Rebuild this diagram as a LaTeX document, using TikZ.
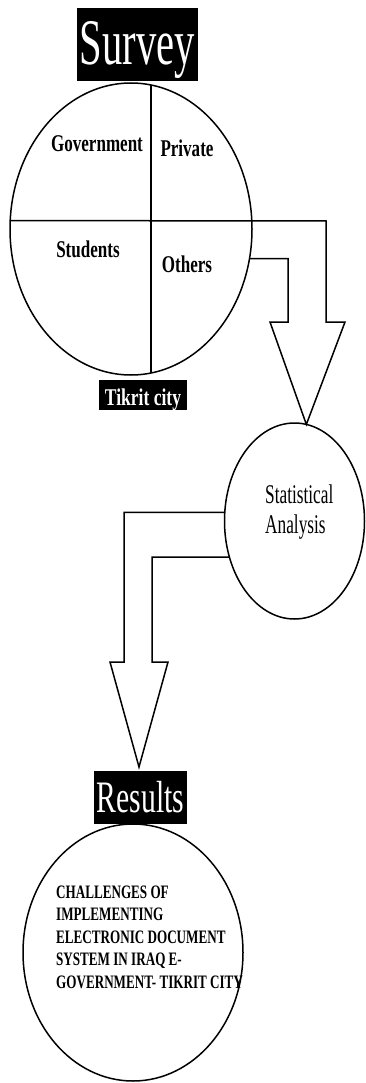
\documentclass[tikz,border=0pt]{standalone}
\usepackage{graphicx}
\usepackage{fontspec}
\setmainfont{Liberation Serif}
\usetikzlibrary{shapes.geometric}
\newcommand{\sqz}[2]{\scalebox{#1}[1]{#2}}
\tikzset{
  ln/.style={line width=1.5pt, line join=miter},
  oval/.style={draw, ellipse, ln, inner sep=0pt, outer sep=0pt},
  blackbox/.style={fill=black, text=white, inner sep=0pt, text depth=0pt},
  lbl/.style={inner sep=0pt, anchor=base, font=\fontsize{24}{28}\selectfont\bfseries}
}
\begin{document}
\begin{tikzpicture}[x=1pt,y=-1pt]
\useasboundingbox (0,0) rectangle (365,1083);
% Survey
\node[blackbox, minimum width=121pt, minimum height=73pt, text height=41pt,
      font=\fontsize{65}{70}\selectfont] (sur) at (137.5,44.5) {\sqz{0.625}{Survey}};
\node[oval, minimum width=242pt, minimum height=292pt] (c1) at (131,229) {};
\draw[ln] (c1.82) -- (c1.-82);
\node[lbl] (gov) at (97,152) {\sqz{0.71}{Government}};
\node[lbl] (pri) at (187,157) {\sqz{0.71}{Private}};
\node[lbl] (stu) at (88,258) {\sqz{0.71}{Students}};
\node[lbl] (oth) at (187,272) {\sqz{0.71}{Others}};
\node[blackbox, minimum width=88pt, minimum height=30pt, text height=20pt,
      font=\fontsize{24}{28}\selectfont\bfseries] (tik) at (143,395) {\sqz{0.73}{Tikrit city}};
% Statistical analysis
\node[oval, minimum width=140pt, minimum height=196pt] (stat) at (294.5,521) {};
\node[inner sep=0pt, anchor=base west, font=\fontsize{27}{30}\selectfont] (stattxt) at (265,503)
  {\sqz{0.64}{\begin{tabular}[t]{@{}l@{}}Statistical\\Analysis\end{tabular}}};
% arrow 1
\coordinate (tip1) at (stat.83);
\draw[ln] (c1.176) -- (326,221) -- (326,322) -- (345,322) -- (tip1) -- (270,322) -- (288,322) |- (c1.-14);
% Results
\node[blackbox, minimum width=93pt, minimum height=53pt, text height=29pt,
      font=\fontsize{45}{50}\selectfont] (res) at (140.5,797.5) {\sqz{0.66}{Results}};
\node[oval, minimum width=220pt, minimum height=257pt] (c3) at (133,952.5) {};
\node[inner sep=0pt, anchor=base west, font=\fontsize{19}{22.6}\selectfont\bfseries] (restxt) at (56,898)
  {\sqz{0.69}{\begin{tabular}[t]{@{}l@{}}CHALLENGES OF\\IMPLEMENTING\\ELECTRONIC DOCUMENT\\SYSTEM IN IRAQ E-\\GOVERNMENT- TIKRIT CITY\end{tabular}}};
% arrow 2
\coordinate (tip2) at (139,767);
\draw[ln] (stat.173) -| (124,662) -- (110,662) -- (tip2) -- (168,662) -- (152,662) |- (stat.209);
\end{tikzpicture}
\end{document}
